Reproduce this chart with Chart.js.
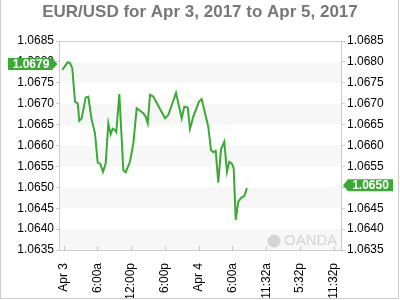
<!DOCTYPE html>
<html>
<head>
<meta charset="utf-8">
<script src="https://cdn.jsdelivr.net/npm/chart.js@4/dist/chart.umd.min.js"></script>
<style>
  html, body { margin: 0; padding: 0; background: #fff; }
</style>
</head>
<body>
<canvas id="chart" width="400" height="300"></canvas>
<script>
// hours since Apr 3 00:00
const hours = [-0.21, 0.75, 1.15, 1.56, 2.04, 2.52, 2.80, 3.23, 3.94, 4.40, 5.01, 5.59, 6.07, 6.53, 7.01, 7.49,
  7.95, 8.38, 8.73, 9.14, 9.37, 9.91, 10.62, 11.04, 11.80, 12.39, 12.99, 14.17, 14.59, 14.95, 15.35, 15.94,
  18.02, 18.60, 19.97, 20.98, 21.44, 22.05, 22.45, 23.04, 24.05, 24.53, 24.99, 25.70, 26.18, 26.59, 27.02,
  27.48, 27.96, 28.54, 29.02, 29.43, 29.86, 30.21, 30.57, 31.03, 31.63, 32.09, 32.57];
const rates = [1.06781, 1.06799, 1.06797, 1.06785, 1.06705, 1.06701, 1.06659, 1.06665, 1.06715, 1.06717, 1.06661,
  1.06629, 1.06559, 1.06556, 1.06537, 1.06557, 1.06653, 1.06627, 1.06640, 1.06637, 1.06632, 1.06723, 1.06541,
  1.06536, 1.06561, 1.06605, 1.06689, 1.06677, 1.06669, 1.06653, 1.06721, 1.06717, 1.06665, 1.06673, 1.06726,
  1.06665, 1.06693, 1.06691, 1.06640, 1.06669, 1.06705, 1.06711, 1.06685, 1.06645, 1.06589, 1.06584, 1.06587,
  1.06511, 1.06591, 1.06609, 1.06537, 1.06561, 1.06557, 1.06546, 1.06422, 1.06466, 1.06476, 1.06479, 1.06498];

const tickHours = [0, 6, 12, 18, 24, 30, 36, 42, 48];
const tickLabels = ['Apr 3', '6:00a', '12:00p', '6:00p', 'Apr 4', '6:00a', '11:32a', '5:32p', '11:32p'];
const yTicks = [1.0635, 1.0640, 1.0645, 1.0650, 1.0655, 1.0660, 1.0665, 1.0670, 1.0675, 1.0680, 1.0685];
const openRate = 1.0679;
const lastRate = 1.0650;

const green = '#3aaa35';
const font = '"Liberation Sans", Arial, sans-serif';

function yAxis(position, width) {
  return {
    type: 'linear',
    position: position,
    min: 1.0635,
    max: 1.0685,
    afterBuildTicks: s => { s.ticks = yTicks.map(v => ({ value: v })); },
    afterFit: s => { s.width = width; },
    grid: { drawOnChartArea: false, tickLength: 3, color: '#ccc' },
    border: { display: false },
    ticks: {
      color: '#000', padding: 2,
      font: { family: font, size: 12 },
      callback: v => v.toFixed(4)
    }
  };
}

const decor = {
  id: 'decor',
  beforeDatasetsDraw(chart) {
    const { ctx, chartArea: a, scales } = chart;
    const y = scales.y, x = scales.x;
    ctx.save();
    ctx.fillStyle = '#f7f7f7';
    for (let i = 0; i < yTicks.length - 1; i += 2) {
      const top = y.getPixelForValue(yTicks[i + 1]);
      const bot = y.getPixelForValue(yTicks[i]);
      ctx.fillRect(a.left, top, a.right - a.left, bot - top);
    }
    // watermark
    ctx.fillStyle = '#d4d4d4';
    ctx.beginPath();
    ctx.arc(274, 241, 6.5, 0, Math.PI * 2);
    ctx.fill();
    ctx.font = '15px ' + font;
    ctx.textAlign = 'left';
    ctx.textBaseline = 'middle';
    ctx.fillText('OANDA', 284, 241);
    // frame
    ctx.strokeStyle = '#ccc';
    ctx.lineWidth = 1;
    ctx.strokeRect(a.left + 0.5, a.top + 0.5, a.right - a.left - 1, a.bottom - a.top);
    ctx.beginPath();
    tickHours.forEach(h => {
      const px = Math.round(x.getPixelForValue(h)) + 0.5;
      ctx.moveTo(px, a.bottom - 4);
      ctx.lineTo(px, a.bottom);
    });
    ctx.stroke();
    // outer border
    ctx.beginPath();
    ctx.moveTo(0.5, 0);
    ctx.lineTo(0.5, 298.5);
    ctx.lineTo(398.5, 298.5);
    ctx.lineTo(398.5, 0);
    ctx.stroke();
    ctx.restore();
  },
  afterDraw(chart) {
    const { ctx, scales } = chart;
    ctx.save();
    ctx.fillStyle = '#777';
    ctx.font = 'bold 17px ' + font;
    ctx.textAlign = 'center';
    ctx.textBaseline = 'middle';
    ctx.fillText('EUR/USD for Apr 3, 2017 to Apr 5, 2017', 200, 12);

    const yo = scales.y.getPixelForValue(openRate) - 2;
    ctx.fillStyle = green;
    ctx.beginPath();
    ctx.moveTo(8, yo - 6); ctx.lineTo(52, yo - 6); ctx.lineTo(57.5, yo);
    ctx.lineTo(52, yo + 6); ctx.lineTo(8, yo + 6); ctx.closePath();
    ctx.fill();
    const yl = scales.y.getPixelForValue(lastRate) - 2;
    ctx.beginPath();
    ctx.moveTo(393, yl - 6); ctx.lineTo(348, yl - 6); ctx.lineTo(343, yl);
    ctx.lineTo(348, yl + 6); ctx.lineTo(393, yl + 6); ctx.closePath();
    ctx.fill();
    ctx.fillStyle = '#fff';
    ctx.font = 'bold 12px ' + font;
    ctx.fillText(openRate.toFixed(4), 31, yo + 0.5);
    ctx.fillText(lastRate.toFixed(4), 370.5, yl + 0.5);
    ctx.restore();
  }
};

new Chart(document.getElementById('chart'), {
  type: 'line',
  data: {
    datasets: [{
      data: hours.map((h, i) => ({ x: h, y: rates[i] })),
      borderColor: green,
      borderWidth: 2,
      pointRadius: 0,
      tension: 0,
      yAxisID: 'y'
    }]
  },
  options: {
    responsive: false,
    animation: false,
    layout: { padding: { top: 41 } },
    plugins: { legend: { display: false }, tooltip: { enabled: false } },
    scales: {
      x: {
        type: 'linear',
        min: -0.8,
        max: 49.44,
        afterBuildTicks: s => { s.ticks = tickHours.map(v => ({ value: v })); },
        afterFit: s => { s.height = 50; },
        grid: { display: false },
        border: { display: false },
        ticks: {
          autoSkip: false, minRotation: 90, maxRotation: 90, padding: 5,
          color: '#000', font: { family: font, size: 12 },
          callback: v => tickLabels[tickHours.indexOf(v)]
        }
      },
      y: yAxis('left', 59),
      y2: yAxis('right', 58)
    }
  },
  plugins: [decor]
});
</script>
</body>
</html>
